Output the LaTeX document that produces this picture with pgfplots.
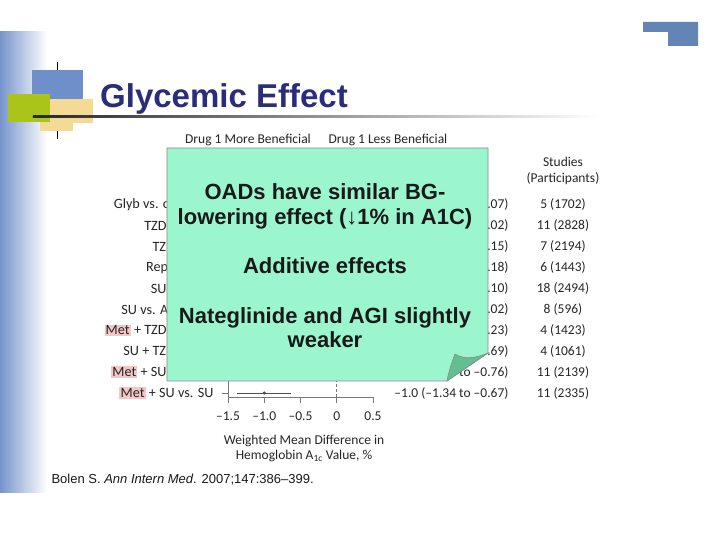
\documentclass[border=0pt]{standalone}
\usepackage{fontspec}
\setmainfont{Carlito}
\newfontfamily\arial{Liberation Sans}
\usepackage{pgfplots}
\pgfplotsset{compat=1.18}
\usepackage{pgfplotstable}
\definecolor{mint}{RGB}{155,246,206}
\definecolor{folddark}{RGB}{100,190,145}
\definecolor{titleblue}{RGB}{42,46,122}
\definecolor{slideblue}{RGB}{100,132,182}
\definecolor{sqblue}{RGB}{110,143,201}
\definecolor{sqgreen}{RGB}{170,196,25}
\definecolor{sqbeige}{RGB}{245,218,150}
\definecolor{metpink}{RGB}{244,198,198}
\definecolor{axgray}{RGB}{120,120,120}
\definecolor{bandblue}{RGB}{118,148,204}
\setlength{\fboxsep}{1.2pt}
\newcommand{\met}{\colorbox{metpink}{Met}}
\newcommand{\cf}{\fontsize{13.5}{16}\selectfont}
\newcommand{\lf}{\fontsize{14.2}{16}\selectfont}

\pgfplotstableread{
y   est    lo     hi     ep    em
10  0.02  -0.03   0.07   0.05  0.05
9  -0.10  -0.22   0.02   0.12  0.12
8   0.05  -0.05   0.15   0.10  0.10
7   0.03  -0.12   0.18   0.15  0.15
6  -0.06  -0.22   0.10   0.16  0.16
5  -0.38  -0.78   0.02   0.40  0.40
4  -0.66  -1.09  -0.23   0.43  0.43
3  -0.95  -1.21  -0.69   0.26  0.26
2  -1.00  -1.24  -0.76   0.24  0.24
1  -1.00  -1.34  -0.67   0.33  0.34
}\wmd

\begin{document}
\begin{tikzpicture}[x=1pt,y=1pt]
% page coordinates: (px,py) from top-left, axis corner at (228,397)
\begin{scope}[shift={(-228,397)}, yscale=-1]
\useasboundingbox (0,0) rectangle (720,540);
\fill[white] (0,0) rectangle (720,540);
\shade[left color=bandblue, right color=white] (0,32) rectangle (47,493);
\fill[slideblue] (643,22) -- (698,22) -- (698,46) -- (668,46) -- (668,32) -- (643,32) -- cycle;
\fill[sqblue] (32,70) rectangle (83,112);
\fill[sqbeige] (40,110) rectangle (73,131);
\fill[sqbeige] (50,99) rectangle (93,123);
\fill[sqgreen] (8,94) rectangle (50,122);
\draw[black, line width=0.9pt] (57,62) -- (57,70);
\draw[black, line width=0.9pt] (57,131) -- (57,139);
\shade[left color=black!85, right color=white] (33,116) rectangle (600,117.6);
\node[anchor=base west, inner sep=0, text=titleblue, font=\arial\bfseries\fontsize{33}{37}\selectfont] at (100,108) {Glycemic Effect};
\end{scope}

% forest plot
\begin{axis}[
  at={(0,0)}, anchor=south west,
  scale only axis, width=145pt, height=200.3pt,
  xmin=-1.5, xmax=0.5, ymin=0.81, ymax=10.4,
  axis x line*=bottom, axis y line*=left,
  axis line style={axgray, line width=0.7pt, -},
  every outer x axis line/.append style={-},
  every outer y axis line/.append style={-},
  xtick={-1.5,-1,-0.5,0,0.5},
  xticklabels={–1.5,–1.0,–0.5,0,0.5},
  ytick={1,2,3,4,5,6,7,8,9,10},
  yticklabels={{\met{} + SU vs. SU},{\met{} + SU vs. Met},{SU + TZD vs. SU},{\met{} + TZD vs. Met},{SU vs. Acarbose},{SU vs. Met},{Repa vs. SU},{TZD vs. SU},{TZD vs. Met},{Glyb vs. other SU}},
  tick align=outside, major tick length=6pt,
  tick style={axgray, line width=0.7pt},
  xticklabel style={font=\cf, text=black!85, yshift=-5pt},
  yticklabel style={font=\lf, text=black!85, anchor=east, xshift=-5pt},
  clip=false,
]
\draw[axgray, densely dashed, line width=0.7pt] (axis cs:0,0.81) -- (axis cs:0,10.4);
\addplot[black!70, only marks, mark=*, mark size=1.3pt,
  error bars/.cd, x dir=both, x explicit,
  error bar style={black!70, line width=0.7pt},
  error mark options={black!70, mark size=2.5pt, line width=0.7pt}]
  table[x=est, y=y, x error plus=ep, x error minus=em] {\wmd};
\end{axis}

\begin{scope}[shift={(-228,397)}, yscale=-1]
\begin{scope}[every node/.style={font=\cf, text=black!85}]
\node at (248,140) {Drug 1 More Beneficial};
\node at (388,140) {Drug 1 Less Beneficial};
\node[align=center] at (563,171) {Studies\\(Participants)};
\node[anchor=east] at (489,170) {WMD (95\% CI)};
\foreach \r/\e/\s in {1/{0.02 (–0.03 to 0.07)}/{5 (1702)},
  2/{–0.10 (–0.22 to 0.02)}/{11 (2828)},
  3/{0.05 (–0.05 to 0.15)}/{7 (2194)},
  4/{0.03 (–0.12 to 0.18)}/{6 (1443)},
  5/{–0.06 (–0.22 to 0.10)}/{18 (2494)},
  6/{–0.38 (–0.78 to 0.02)}/{8 (596)},
  7/{–0.66 (–1.09 to –0.23)}/{4 (1423)},
  8/{–0.95 (–1.21 to –0.69)}/{4 (1061)},
  9/{–1.0 (–1.24 to –0.76)}/{11 (2139)},
  10/{–1.0 (–1.34 to –0.67)}/{11 (2335)}}{
  \pgfmathsetmacro\py{205+(\r-1)*20.89}
  \node[anchor=east] at (512,\py) {\e};
  \node at (563,\py) {\s};
}
\node at (304,441) {Weighted Mean Difference in};
\node at (304,456) {Hemoglobin A\textsubscript{1c} Value, \%};
\end{scope}
\node[anchor=west, font=\arial\fontsize{13}{15}\selectfont, text=black!90] at (48,480) {Bolen S. \textit{Ann Intern Med}. 2007;147:386–399.};

\filldraw[fill=mint, draw=black!45, line width=0.6pt] (167,148) -- (488,148) -- (488,353) -- (447,381) -- (167,381) -- cycle;
\filldraw[fill=folddark, draw=black!45, line width=0.6pt] (447,381) .. controls (449,370) and (452,362) .. (455,354) .. controls (465,360) and (476,358) .. (488,353) -- cycle;
\begin{scope}[every node/.style={font=\arial\bfseries\fontsize{22}{26}\selectfont, text=black!90, anchor=base}]
\node at (325,200) {OADs have similar BG-};
\node at (325,225) {lowering effect (↓1\% in A1C)};
\node at (325,274) {Additive effects};
\node at (325,324) {Nateglinide and AGI slightly};
\node at (325,348) {weaker};
\end{scope}
\end{scope}
\end{tikzpicture}
\end{document}
